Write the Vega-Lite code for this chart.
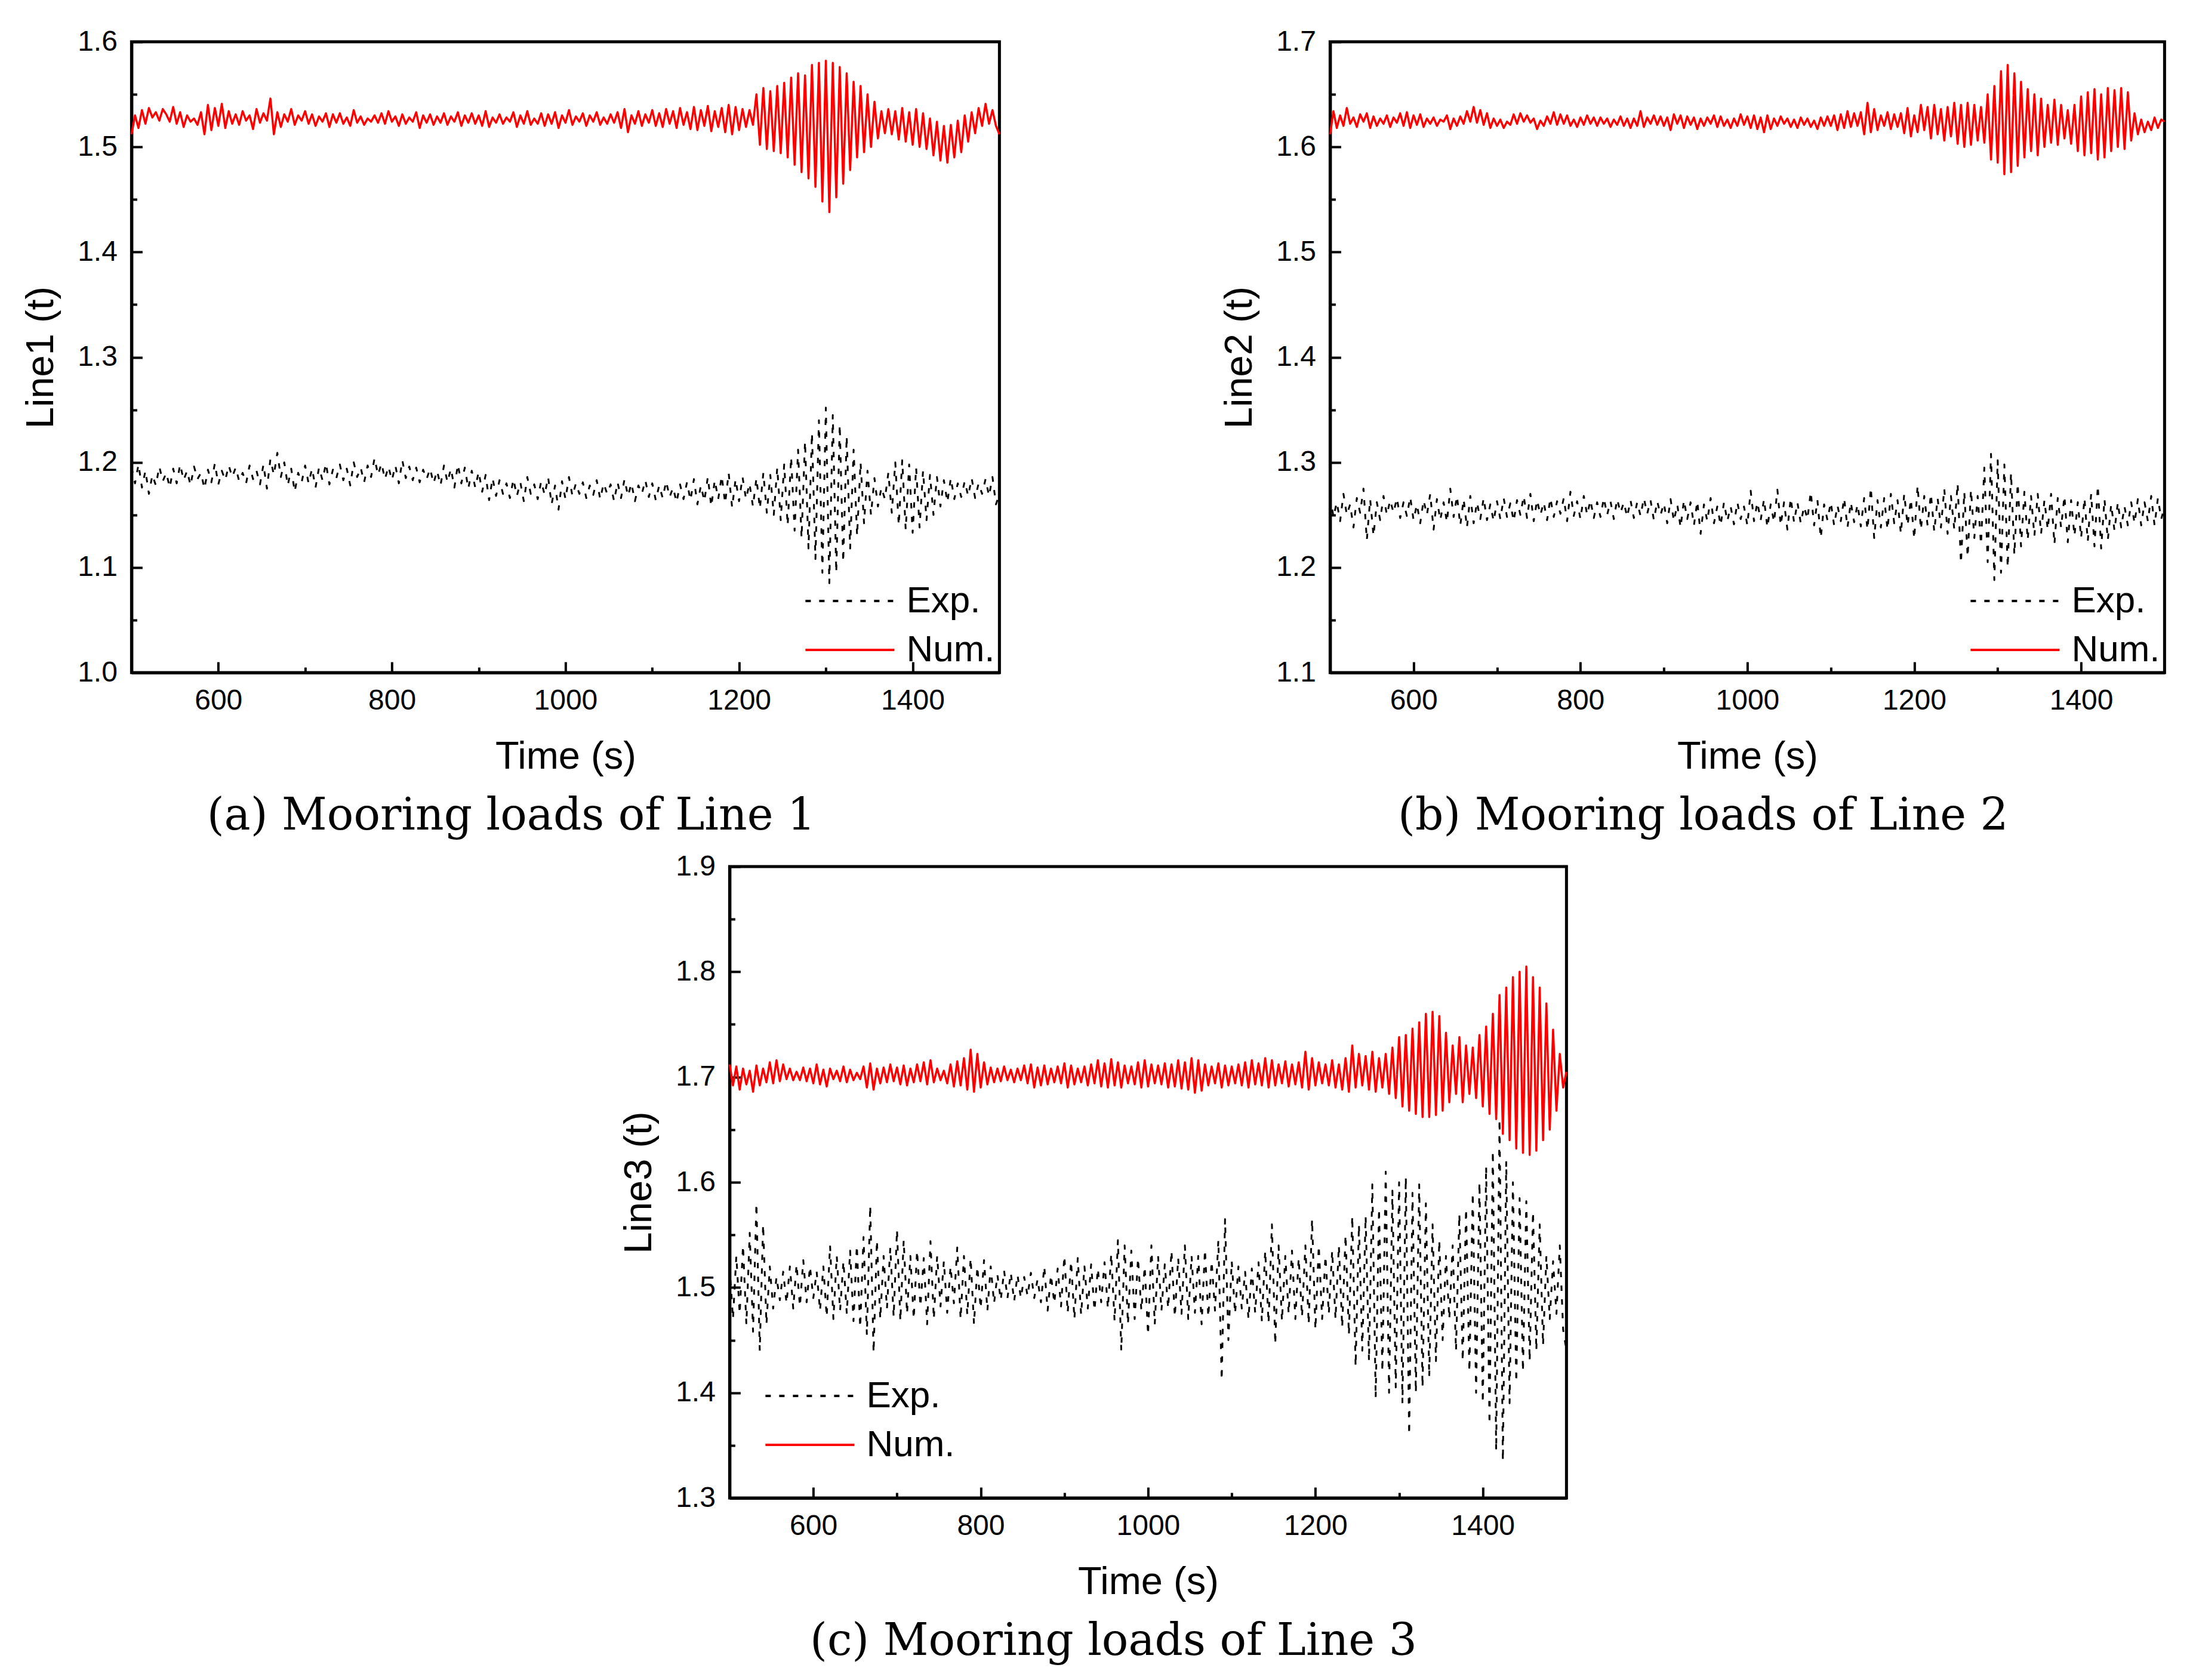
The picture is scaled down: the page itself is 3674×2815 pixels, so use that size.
{
  "$schema": "https://vega.github.io/schema/vega-lite/v6.json",
  "background": "white",
  "padding": {"left": 34, "top": 43, "right": 20, "bottom": 10},
  "datasets": {
    "a": [
      {"t":500,"e":1.195,"n":1.512},{"t":504,"e":1.18,"n":1.53},{"t":508,"e":1.198,"n":1.518},{"t":512,"e":1.176,"n":1.535},{"t":516,"e":1.192,"n":1.522},{"t":520,"e":1.17,"n":1.537},{"t":524,"e":1.188,"n":1.528},{"t":528,"e":1.178,"n":1.533},{"t":532,"e":1.196,"n":1.525},{"t":536,"e":1.182,"n":1.536},
      {"t":540,"e":1.19,"n":1.531},{"t":544,"e":1.176,"n":1.524},{"t":548,"e":1.194,"n":1.538},{"t":552,"e":1.18,"n":1.522},{"t":556,"e":1.198,"n":1.533},{"t":560,"e":1.183,"n":1.519},{"t":564,"e":1.192,"n":1.53},{"t":568,"e":1.178,"n":1.524},{"t":572,"e":1.196,"n":1.527},{"t":576,"e":1.184,"n":1.521},
      {"t":580,"e":1.19,"n":1.533},{"t":584,"e":1.175,"n":1.512},{"t":588,"e":1.193,"n":1.54},{"t":592,"e":1.181,"n":1.516},{"t":596,"e":1.199,"n":1.537},{"t":600,"e":1.179,"n":1.52},{"t":604,"e":1.192,"n":1.541},{"t":608,"e":1.183,"n":1.518},{"t":612,"e":1.197,"n":1.534},{"t":616,"e":1.186,"n":1.522},
      {"t":620,"e":1.195,"n":1.531},{"t":624,"e":1.182,"n":1.521},{"t":628,"e":1.19,"n":1.534},{"t":632,"e":1.18,"n":1.525},{"t":636,"e":1.197,"n":1.53},{"t":640,"e":1.184,"n":1.517},{"t":644,"e":1.192,"n":1.536},{"t":648,"e":1.179,"n":1.523},{"t":652,"e":1.198,"n":1.532},{"t":656,"e":1.175,"n":1.525},
      {"t":660,"e":1.203,"n":1.546},{"t":664,"e":1.188,"n":1.512},{"t":668,"e":1.209,"n":1.533},{"t":672,"e":1.186,"n":1.519},{"t":676,"e":1.2,"n":1.531},{"t":680,"e":1.178,"n":1.524},{"t":684,"e":1.194,"n":1.536},{"t":688,"e":1.172,"n":1.521},{"t":692,"e":1.19,"n":1.53},{"t":696,"e":1.181,"n":1.525},
      {"t":700,"e":1.197,"n":1.534},{"t":704,"e":1.18,"n":1.522},{"t":708,"e":1.194,"n":1.531},{"t":712,"e":1.176,"n":1.52},{"t":716,"e":1.195,"n":1.529},{"t":720,"e":1.183,"n":1.524},{"t":724,"e":1.199,"n":1.532},{"t":728,"e":1.179,"n":1.519},{"t":732,"e":1.193,"n":1.531},{"t":736,"e":1.185,"n":1.523},
      {"t":740,"e":1.198,"n":1.532},{"t":744,"e":1.183,"n":1.522},{"t":748,"e":1.194,"n":1.528},{"t":752,"e":1.178,"n":1.52},{"t":756,"e":1.2,"n":1.535},{"t":760,"e":1.186,"n":1.523},{"t":764,"e":1.195,"n":1.529},{"t":768,"e":1.181,"n":1.521},{"t":772,"e":1.197,"n":1.527},{"t":776,"e":1.186,"n":1.524},
      {"t":780,"e":1.204,"n":1.53},{"t":784,"e":1.188,"n":1.523},{"t":788,"e":1.199,"n":1.532},{"t":792,"e":1.184,"n":1.522},{"t":796,"e":1.196,"n":1.534},{"t":800,"e":1.183,"n":1.524},{"t":804,"e":1.197,"n":1.529},{"t":808,"e":1.18,"n":1.52},{"t":812,"e":1.202,"n":1.531},{"t":816,"e":1.185,"n":1.522},
      {"t":820,"e":1.196,"n":1.528},{"t":824,"e":1.183,"n":1.524},{"t":828,"e":1.195,"n":1.533},{"t":832,"e":1.181,"n":1.518},{"t":836,"e":1.193,"n":1.53},{"t":840,"e":1.184,"n":1.523},{"t":844,"e":1.194,"n":1.531},{"t":848,"e":1.18,"n":1.521},{"t":852,"e":1.192,"n":1.529},{"t":856,"e":1.178,"n":1.523},
      {"t":860,"e":1.197,"n":1.532},{"t":864,"e":1.181,"n":1.521},{"t":868,"e":1.194,"n":1.529},{"t":872,"e":1.176,"n":1.524},{"t":876,"e":1.198,"n":1.533},{"t":880,"e":1.18,"n":1.52},{"t":884,"e":1.195,"n":1.53},{"t":888,"e":1.175,"n":1.523},{"t":892,"e":1.192,"n":1.532},{"t":896,"e":1.176,"n":1.522},
      {"t":900,"e":1.191,"n":1.53},{"t":904,"e":1.172,"n":1.52},{"t":908,"e":1.188,"n":1.534},{"t":912,"e":1.164,"n":1.519},{"t":916,"e":1.185,"n":1.528},{"t":920,"e":1.168,"n":1.523},{"t":924,"e":1.183,"n":1.531},{"t":928,"e":1.17,"n":1.522},{"t":932,"e":1.18,"n":1.528},{"t":936,"e":1.166,"n":1.524},
      {"t":940,"e":1.184,"n":1.533},{"t":944,"e":1.168,"n":1.519},{"t":948,"e":1.181,"n":1.53},{"t":952,"e":1.163,"n":1.522},{"t":956,"e":1.186,"n":1.534},{"t":960,"e":1.17,"n":1.521},{"t":964,"e":1.179,"n":1.527},{"t":968,"e":1.165,"n":1.522},{"t":972,"e":1.182,"n":1.532},{"t":976,"e":1.169,"n":1.52},
      {"t":980,"e":1.186,"n":1.531},{"t":984,"e":1.16,"n":1.522},{"t":988,"e":1.178,"n":1.533},{"t":992,"e":1.155,"n":1.518},{"t":996,"e":1.182,"n":1.53},{"t":1000,"e":1.165,"n":1.523},{"t":1004,"e":1.186,"n":1.535},{"t":1008,"e":1.168,"n":1.521},{"t":1012,"e":1.18,"n":1.529},{"t":1016,"e":1.17,"n":1.524},
      {"t":1020,"e":1.181,"n":1.532},{"t":1024,"e":1.166,"n":1.52},{"t":1028,"e":1.178,"n":1.53},{"t":1032,"e":1.169,"n":1.524},{"t":1036,"e":1.183,"n":1.533},{"t":1040,"e":1.165,"n":1.521},{"t":1044,"e":1.18,"n":1.528},{"t":1048,"e":1.17,"n":1.522},{"t":1052,"e":1.179,"n":1.531},{"t":1056,"e":1.163,"n":1.523},
      {"t":1060,"e":1.181,"n":1.533},{"t":1064,"e":1.166,"n":1.518},{"t":1068,"e":1.184,"n":1.536},{"t":1072,"e":1.168,"n":1.514},{"t":1076,"e":1.18,"n":1.53},{"t":1080,"e":1.163,"n":1.522},{"t":1084,"e":1.178,"n":1.534},{"t":1088,"e":1.17,"n":1.52},{"t":1092,"e":1.183,"n":1.531},{"t":1096,"e":1.167,"n":1.523},
      {"t":1100,"e":1.18,"n":1.535},{"t":1104,"e":1.164,"n":1.52},{"t":1108,"e":1.178,"n":1.532},{"t":1112,"e":1.166,"n":1.519},{"t":1116,"e":1.182,"n":1.536},{"t":1120,"e":1.167,"n":1.522},{"t":1124,"e":1.176,"n":1.534},{"t":1128,"e":1.162,"n":1.518},{"t":1132,"e":1.179,"n":1.537},{"t":1136,"e":1.165,"n":1.521},
      {"t":1140,"e":1.181,"n":1.533},{"t":1144,"e":1.164,"n":1.517},{"t":1148,"e":1.184,"n":1.538},{"t":1152,"e":1.16,"n":1.516},{"t":1156,"e":1.178,"n":1.535},{"t":1160,"e":1.163,"n":1.52},{"t":1164,"e":1.186,"n":1.539},{"t":1168,"e":1.158,"n":1.515},{"t":1172,"e":1.183,"n":1.534},{"t":1176,"e":1.165,"n":1.519},
      {"t":1180,"e":1.187,"n":1.537},{"t":1184,"e":1.161,"n":1.514},{"t":1188,"e":1.19,"n":1.54},{"t":1192,"e":1.157,"n":1.512},{"t":1196,"e":1.184,"n":1.538},{"t":1200,"e":1.163,"n":1.516},{"t":1204,"e":1.186,"n":1.536},{"t":1208,"e":1.165,"n":1.519},{"t":1212,"e":1.18,"n":1.535},{"t":1216,"e":1.158,"n":1.521},
      {"t":1220,"e":1.185,"n":1.55},{"t":1224,"e":1.156,"n":1.502},{"t":1228,"e":1.19,"n":1.556},{"t":1232,"e":1.152,"n":1.498},{"t":1236,"e":1.188,"n":1.553},{"t":1240,"e":1.15,"n":1.496},{"t":1244,"e":1.195,"n":1.558},{"t":1248,"e":1.145,"n":1.494},{"t":1252,"e":1.198,"n":1.561},{"t":1256,"e":1.14,"n":1.49},
      {"t":1260,"e":1.205,"n":1.566},{"t":1264,"e":1.135,"n":1.483},{"t":1268,"e":1.212,"n":1.57},{"t":1272,"e":1.128,"n":1.476},{"t":1276,"e":1.22,"n":1.568},{"t":1280,"e":1.118,"n":1.47},{"t":1284,"e":1.228,"n":1.578},{"t":1288,"e":1.108,"n":1.462},{"t":1292,"e":1.24,"n":1.58},{"t":1296,"e":1.095,"n":1.448},
      {"t":1300,"e":1.252,"n":1.582},{"t":1304,"e":1.085,"n":1.438},{"t":1308,"e":1.245,"n":1.58},{"t":1312,"e":1.095,"n":1.452},{"t":1316,"e":1.236,"n":1.576},{"t":1320,"e":1.105,"n":1.465},{"t":1324,"e":1.225,"n":1.57},{"t":1328,"e":1.118,"n":1.478},{"t":1332,"e":1.212,"n":1.562},{"t":1336,"e":1.13,"n":1.49},
      {"t":1340,"e":1.2,"n":1.558},{"t":1344,"e":1.142,"n":1.495},{"t":1348,"e":1.192,"n":1.55},{"t":1352,"e":1.15,"n":1.5},{"t":1356,"e":1.185,"n":1.543},{"t":1360,"e":1.158,"n":1.508},{"t":1364,"e":1.176,"n":1.534},{"t":1368,"e":1.165,"n":1.513},{"t":1372,"e":1.19,"n":1.536},{"t":1376,"e":1.152,"n":1.512},
      {"t":1380,"e":1.2,"n":1.534},{"t":1384,"e":1.14,"n":1.507},{"t":1388,"e":1.202,"n":1.537},{"t":1392,"e":1.136,"n":1.505},{"t":1396,"e":1.198,"n":1.533},{"t":1400,"e":1.133,"n":1.502},{"t":1404,"e":1.195,"n":1.536},{"t":1408,"e":1.138,"n":1.5},{"t":1412,"e":1.192,"n":1.532},{"t":1416,"e":1.145,"n":1.498},
      {"t":1420,"e":1.188,"n":1.527},{"t":1424,"e":1.15,"n":1.492},{"t":1428,"e":1.186,"n":1.524},{"t":1432,"e":1.158,"n":1.487},{"t":1436,"e":1.183,"n":1.52},{"t":1440,"e":1.162,"n":1.485},{"t":1444,"e":1.185,"n":1.521},{"t":1448,"e":1.165,"n":1.49},{"t":1452,"e":1.18,"n":1.525},{"t":1456,"e":1.167,"n":1.495},
      {"t":1460,"e":1.182,"n":1.53},{"t":1464,"e":1.168,"n":1.505},{"t":1468,"e":1.185,"n":1.533},{"t":1472,"e":1.166,"n":1.513},{"t":1476,"e":1.18,"n":1.537},{"t":1480,"e":1.17,"n":1.52},{"t":1484,"e":1.184,"n":1.541},{"t":1488,"e":1.168,"n":1.522},{"t":1492,"e":1.186,"n":1.535},{"t":1496,"e":1.16,"n":1.52},
      {"t":1500,"e":1.17,"n":1.512}
    ],
    "b": [
      {"t":500,"e":1.268,"n":1.612},{"t":504,"e":1.248,"n":1.634},{"t":508,"e":1.262,"n":1.618},{"t":512,"e":1.244,"n":1.63},{"t":516,"e":1.27,"n":1.62},{"t":520,"e":1.25,"n":1.637},{"t":524,"e":1.26,"n":1.622},{"t":528,"e":1.238,"n":1.628},{"t":532,"e":1.266,"n":1.619},{"t":536,"e":1.252,"n":1.631},
      {"t":540,"e":1.275,"n":1.624},{"t":544,"e":1.226,"n":1.632},{"t":548,"e":1.265,"n":1.618},{"t":552,"e":1.23,"n":1.629},{"t":556,"e":1.262,"n":1.62},{"t":560,"e":1.245,"n":1.627},{"t":564,"e":1.268,"n":1.622},{"t":568,"e":1.25,"n":1.63},{"t":572,"e":1.264,"n":1.619},{"t":576,"e":1.252,"n":1.628},
      {"t":580,"e":1.266,"n":1.623},{"t":584,"e":1.247,"n":1.632},{"t":588,"e":1.262,"n":1.62},{"t":592,"e":1.249,"n":1.633},{"t":596,"e":1.267,"n":1.618},{"t":600,"e":1.245,"n":1.63},{"t":604,"e":1.26,"n":1.621},{"t":608,"e":1.242,"n":1.631},{"t":612,"e":1.264,"n":1.619},{"t":616,"e":1.25,"n":1.627},
      {"t":620,"e":1.27,"n":1.622},{"t":624,"e":1.236,"n":1.628},{"t":628,"e":1.265,"n":1.62},{"t":632,"e":1.245,"n":1.626},{"t":636,"e":1.262,"n":1.624},{"t":640,"e":1.243,"n":1.63},{"t":644,"e":1.275,"n":1.617},{"t":648,"e":1.248,"n":1.627},{"t":652,"e":1.268,"n":1.62},{"t":656,"e":1.24,"n":1.629},
      {"t":660,"e":1.265,"n":1.622},{"t":664,"e":1.238,"n":1.634},{"t":668,"e":1.268,"n":1.624},{"t":672,"e":1.242,"n":1.638},{"t":676,"e":1.262,"n":1.623},{"t":680,"e":1.246,"n":1.635},{"t":684,"e":1.266,"n":1.621},{"t":688,"e":1.245,"n":1.632},{"t":692,"e":1.26,"n":1.618},{"t":696,"e":1.244,"n":1.627},
      {"t":700,"e":1.263,"n":1.62},{"t":704,"e":1.246,"n":1.626},{"t":708,"e":1.266,"n":1.618},{"t":712,"e":1.248,"n":1.624},{"t":716,"e":1.261,"n":1.621},{"t":720,"e":1.244,"n":1.631},{"t":724,"e":1.264,"n":1.622},{"t":728,"e":1.25,"n":1.632},{"t":732,"e":1.268,"n":1.624},{"t":736,"e":1.247,"n":1.63},
      {"t":740,"e":1.27,"n":1.623},{"t":744,"e":1.244,"n":1.627},{"t":748,"e":1.264,"n":1.617},{"t":752,"e":1.25,"n":1.625},{"t":756,"e":1.262,"n":1.62},{"t":760,"e":1.245,"n":1.629},{"t":764,"e":1.266,"n":1.622},{"t":768,"e":1.248,"n":1.633},{"t":772,"e":1.263,"n":1.621},{"t":776,"e":1.251,"n":1.631},
      {"t":780,"e":1.266,"n":1.622},{"t":784,"e":1.244,"n":1.63},{"t":788,"e":1.272,"n":1.62},{"t":792,"e":1.249,"n":1.626},{"t":796,"e":1.263,"n":1.619},{"t":800,"e":1.246,"n":1.628},{"t":804,"e":1.268,"n":1.621},{"t":808,"e":1.25,"n":1.63},{"t":812,"e":1.264,"n":1.622},{"t":816,"e":1.247,"n":1.628},
      {"t":820,"e":1.262,"n":1.62},{"t":824,"e":1.248,"n":1.628},{"t":828,"e":1.266,"n":1.622},{"t":832,"e":1.25,"n":1.627},{"t":836,"e":1.263,"n":1.619},{"t":840,"e":1.246,"n":1.626},{"t":844,"e":1.265,"n":1.621},{"t":848,"e":1.252,"n":1.629},{"t":852,"e":1.262,"n":1.62},{"t":856,"e":1.248,"n":1.627},
      {"t":860,"e":1.264,"n":1.618},{"t":864,"e":1.247,"n":1.627},{"t":868,"e":1.262,"n":1.62},{"t":872,"e":1.249,"n":1.634},{"t":876,"e":1.266,"n":1.619},{"t":880,"e":1.251,"n":1.628},{"t":884,"e":1.264,"n":1.622},{"t":888,"e":1.245,"n":1.63},{"t":892,"e":1.263,"n":1.621},{"t":896,"e":1.25,"n":1.629},
      {"t":900,"e":1.261,"n":1.62},{"t":904,"e":1.242,"n":1.628},{"t":908,"e":1.265,"n":1.616},{"t":912,"e":1.244,"n":1.631},{"t":916,"e":1.26,"n":1.622},{"t":920,"e":1.238,"n":1.63},{"t":924,"e":1.264,"n":1.618},{"t":928,"e":1.246,"n":1.629},{"t":932,"e":1.262,"n":1.621},{"t":936,"e":1.24,"n":1.628},
      {"t":940,"e":1.263,"n":1.617},{"t":944,"e":1.232,"n":1.627},{"t":948,"e":1.26,"n":1.62},{"t":952,"e":1.244,"n":1.628},{"t":956,"e":1.266,"n":1.622},{"t":960,"e":1.242,"n":1.63},{"t":964,"e":1.258,"n":1.619},{"t":968,"e":1.24,"n":1.629},{"t":972,"e":1.262,"n":1.62},{"t":976,"e":1.244,"n":1.626},
      {"t":980,"e":1.258,"n":1.618},{"t":984,"e":1.241,"n":1.627},{"t":988,"e":1.262,"n":1.62},{"t":992,"e":1.246,"n":1.631},{"t":996,"e":1.258,"n":1.621},{"t":1000,"e":1.24,"n":1.629},{"t":1004,"e":1.273,"n":1.618},{"t":1008,"e":1.244,"n":1.63},{"t":1012,"e":1.262,"n":1.617},{"t":1016,"e":1.245,"n":1.628},
      {"t":1020,"e":1.265,"n":1.614},{"t":1024,"e":1.238,"n":1.63},{"t":1028,"e":1.26,"n":1.617},{"t":1032,"e":1.243,"n":1.627},{"t":1036,"e":1.274,"n":1.62},{"t":1040,"e":1.24,"n":1.629},{"t":1044,"e":1.262,"n":1.622},{"t":1048,"e":1.236,"n":1.627},{"t":1052,"e":1.266,"n":1.619},{"t":1056,"e":1.243,"n":1.626},
      {"t":1060,"e":1.262,"n":1.618},{"t":1064,"e":1.242,"n":1.628},{"t":1068,"e":1.258,"n":1.621},{"t":1072,"e":1.246,"n":1.627},{"t":1076,"e":1.272,"n":1.619},{"t":1080,"e":1.24,"n":1.625},{"t":1084,"e":1.264,"n":1.617},{"t":1088,"e":1.228,"n":1.628},{"t":1092,"e":1.26,"n":1.62},{"t":1096,"e":1.245,"n":1.629},
      {"t":1100,"e":1.262,"n":1.62},{"t":1104,"e":1.24,"n":1.63},{"t":1108,"e":1.259,"n":1.616},{"t":1112,"e":1.244,"n":1.631},{"t":1116,"e":1.266,"n":1.618},{"t":1120,"e":1.238,"n":1.634},{"t":1124,"e":1.262,"n":1.619},{"t":1128,"e":1.243,"n":1.632},{"t":1132,"e":1.26,"n":1.62},{"t":1136,"e":1.239,"n":1.633},
      {"t":1140,"e":1.266,"n":1.612},{"t":1144,"e":1.236,"n":1.642},{"t":1148,"e":1.276,"n":1.614},{"t":1152,"e":1.228,"n":1.636},{"t":1156,"e":1.264,"n":1.616},{"t":1160,"e":1.238,"n":1.63},{"t":1164,"e":1.266,"n":1.62},{"t":1168,"e":1.236,"n":1.633},{"t":1172,"e":1.27,"n":1.617},{"t":1176,"e":1.242,"n":1.631},
      {"t":1180,"e":1.264,"n":1.619},{"t":1184,"e":1.232,"n":1.632},{"t":1188,"e":1.27,"n":1.613},{"t":1192,"e":1.24,"n":1.637},{"t":1196,"e":1.265,"n":1.61},{"t":1200,"e":1.227,"n":1.63},{"t":1204,"e":1.278,"n":1.614},{"t":1208,"e":1.236,"n":1.64},{"t":1212,"e":1.268,"n":1.616},{"t":1216,"e":1.24,"n":1.638},
      {"t":1220,"e":1.27,"n":1.608},{"t":1224,"e":1.234,"n":1.64},{"t":1228,"e":1.266,"n":1.612},{"t":1232,"e":1.238,"n":1.636},{"t":1236,"e":1.275,"n":1.606},{"t":1240,"e":1.232,"n":1.638},{"t":1244,"e":1.268,"n":1.61},{"t":1248,"e":1.236,"n":1.642},{"t":1252,"e":1.28,"n":1.603},{"t":1256,"e":1.204,"n":1.64},
      {"t":1260,"e":1.272,"n":1.6},{"t":1264,"e":1.21,"n":1.642},{"t":1268,"e":1.274,"n":1.602},{"t":1272,"e":1.228,"n":1.64},{"t":1276,"e":1.268,"n":1.606},{"t":1280,"e":1.222,"n":1.638},{"t":1284,"e":1.295,"n":1.604},{"t":1288,"e":1.205,"n":1.65},{"t":1292,"e":1.308,"n":1.588},{"t":1296,"e":1.188,"n":1.658},
      {"t":1300,"e":1.302,"n":1.585},{"t":1304,"e":1.195,"n":1.672},{"t":1308,"e":1.298,"n":1.574},{"t":1312,"e":1.2,"n":1.678},{"t":1316,"e":1.29,"n":1.576},{"t":1320,"e":1.212,"n":1.67},{"t":1324,"e":1.28,"n":1.582},{"t":1328,"e":1.22,"n":1.662},{"t":1332,"e":1.272,"n":1.59},{"t":1336,"e":1.226,"n":1.655},
      {"t":1340,"e":1.268,"n":1.596},{"t":1344,"e":1.23,"n":1.65},{"t":1348,"e":1.27,"n":1.592},{"t":1352,"e":1.232,"n":1.646},{"t":1356,"e":1.264,"n":1.6},{"t":1360,"e":1.236,"n":1.64},{"t":1364,"e":1.27,"n":1.604},{"t":1368,"e":1.222,"n":1.645},{"t":1372,"e":1.266,"n":1.602},{"t":1376,"e":1.238,"n":1.64},
      {"t":1380,"e":1.268,"n":1.608},{"t":1384,"e":1.224,"n":1.635},{"t":1388,"e":1.264,"n":1.603},{"t":1392,"e":1.23,"n":1.64},{"t":1396,"e":1.262,"n":1.596},{"t":1400,"e":1.228,"n":1.648},{"t":1404,"e":1.266,"n":1.592},{"t":1408,"e":1.225,"n":1.652},{"t":1412,"e":1.27,"n":1.594},{"t":1416,"e":1.22,"n":1.655},
      {"t":1420,"e":1.278,"n":1.588},{"t":1424,"e":1.218,"n":1.65},{"t":1428,"e":1.265,"n":1.59},{"t":1432,"e":1.226,"n":1.656},{"t":1436,"e":1.26,"n":1.596},{"t":1440,"e":1.235,"n":1.654},{"t":1444,"e":1.262,"n":1.6},{"t":1448,"e":1.238,"n":1.656},{"t":1452,"e":1.258,"n":1.598},{"t":1456,"e":1.24,"n":1.652},
      {"t":1460,"e":1.262,"n":1.606},{"t":1464,"e":1.242,"n":1.632},{"t":1468,"e":1.265,"n":1.612},{"t":1472,"e":1.24,"n":1.626},{"t":1476,"e":1.262,"n":1.614},{"t":1480,"e":1.244,"n":1.624},{"t":1484,"e":1.268,"n":1.616},{"t":1488,"e":1.24,"n":1.628},{"t":1492,"e":1.266,"n":1.618},{"t":1496,"e":1.246,"n":1.626},
      {"t":1500,"e":1.258,"n":1.624}
    ],
    "c": [
      {"t":500,"e":1.52,"n":1.712},{"t":504,"e":1.47,"n":1.692},{"t":508,"e":1.53,"n":1.71},{"t":512,"e":1.475,"n":1.688},{"t":516,"e":1.54,"n":1.708},{"t":520,"e":1.465,"n":1.693},{"t":524,"e":1.552,"n":1.706},{"t":528,"e":1.458,"n":1.686},{"t":532,"e":1.58,"n":1.711},{"t":536,"e":1.44,"n":1.692},
      {"t":540,"e":1.56,"n":1.708},{"t":544,"e":1.465,"n":1.695},{"t":548,"e":1.52,"n":1.714},{"t":552,"e":1.48,"n":1.694},{"t":556,"e":1.51,"n":1.716},{"t":560,"e":1.488,"n":1.696},{"t":564,"e":1.515,"n":1.712},{"t":568,"e":1.485,"n":1.698},{"t":572,"e":1.52,"n":1.708},{"t":576,"e":1.48,"n":1.697},
      {"t":580,"e":1.522,"n":1.705},{"t":584,"e":1.482,"n":1.697},{"t":588,"e":1.526,"n":1.709},{"t":592,"e":1.486,"n":1.696},{"t":596,"e":1.52,"n":1.708},{"t":600,"e":1.49,"n":1.694},{"t":604,"e":1.515,"n":1.712},{"t":608,"e":1.478,"n":1.693},{"t":612,"e":1.52,"n":1.707},{"t":616,"e":1.472,"n":1.691},
      {"t":620,"e":1.54,"n":1.708},{"t":624,"e":1.47,"n":1.698},{"t":628,"e":1.53,"n":1.706},{"t":632,"e":1.478,"n":1.696},{"t":636,"e":1.525,"n":1.71},{"t":640,"e":1.475,"n":1.695},{"t":644,"e":1.535,"n":1.707},{"t":648,"e":1.468,"n":1.697},{"t":652,"e":1.54,"n":1.704},{"t":656,"e":1.462,"n":1.698},
      {"t":660,"e":1.548,"n":1.71},{"t":664,"e":1.455,"n":1.69},{"t":668,"e":1.578,"n":1.713},{"t":672,"e":1.438,"n":1.688},{"t":676,"e":1.545,"n":1.708},{"t":680,"e":1.47,"n":1.694},{"t":684,"e":1.53,"n":1.709},{"t":688,"e":1.48,"n":1.695},{"t":692,"e":1.538,"n":1.712},{"t":696,"e":1.472,"n":1.696},
      {"t":700,"e":1.555,"n":1.709},{"t":704,"e":1.468,"n":1.693},{"t":708,"e":1.545,"n":1.711},{"t":712,"e":1.475,"n":1.692},{"t":716,"e":1.53,"n":1.708},{"t":720,"e":1.47,"n":1.695},{"t":724,"e":1.535,"n":1.712},{"t":728,"e":1.482,"n":1.696},{"t":732,"e":1.528,"n":1.714},{"t":736,"e":1.465,"n":1.693},
      {"t":740,"e":1.544,"n":1.716},{"t":744,"e":1.47,"n":1.695},{"t":748,"e":1.53,"n":1.708},{"t":752,"e":1.482,"n":1.697},{"t":756,"e":1.525,"n":1.706},{"t":760,"e":1.476,"n":1.694},{"t":764,"e":1.52,"n":1.712},{"t":768,"e":1.485,"n":1.691},{"t":772,"e":1.538,"n":1.715},{"t":776,"e":1.47,"n":1.692},
      {"t":780,"e":1.53,"n":1.718},{"t":784,"e":1.474,"n":1.688},{"t":788,"e":1.528,"n":1.726},{"t":792,"e":1.465,"n":1.686},{"t":796,"e":1.52,"n":1.722},{"t":800,"e":1.48,"n":1.69},{"t":804,"e":1.526,"n":1.714},{"t":808,"e":1.478,"n":1.693},{"t":812,"e":1.52,"n":1.709},{"t":816,"e":1.485,"n":1.695},
      {"t":820,"e":1.512,"n":1.708},{"t":824,"e":1.488,"n":1.696},{"t":828,"e":1.516,"n":1.71},{"t":832,"e":1.49,"n":1.697},{"t":836,"e":1.514,"n":1.707},{"t":840,"e":1.487,"n":1.695},{"t":844,"e":1.512,"n":1.708},{"t":848,"e":1.49,"n":1.697},{"t":852,"e":1.51,"n":1.711},{"t":856,"e":1.492,"n":1.694},
      {"t":860,"e":1.514,"n":1.712},{"t":864,"e":1.49,"n":1.69},{"t":868,"e":1.508,"n":1.709},{"t":872,"e":1.486,"n":1.692},{"t":876,"e":1.52,"n":1.711},{"t":880,"e":1.478,"n":1.693},{"t":884,"e":1.512,"n":1.708},{"t":888,"e":1.485,"n":1.695},{"t":892,"e":1.518,"n":1.71},{"t":896,"e":1.482,"n":1.694},
      {"t":900,"e":1.53,"n":1.713},{"t":904,"e":1.476,"n":1.69},{"t":908,"e":1.525,"n":1.711},{"t":912,"e":1.47,"n":1.693},{"t":916,"e":1.528,"n":1.708},{"t":920,"e":1.474,"n":1.695},{"t":924,"e":1.52,"n":1.71},{"t":928,"e":1.48,"n":1.692},{"t":932,"e":1.522,"n":1.712},{"t":936,"e":1.478,"n":1.694},
      {"t":940,"e":1.518,"n":1.716},{"t":944,"e":1.486,"n":1.691},{"t":948,"e":1.524,"n":1.713},{"t":952,"e":1.48,"n":1.69},{"t":956,"e":1.532,"n":1.717},{"t":960,"e":1.468,"n":1.692},{"t":964,"e":1.545,"n":1.714},{"t":968,"e":1.44,"n":1.69},{"t":972,"e":1.54,"n":1.711},{"t":976,"e":1.465,"n":1.694},
      {"t":980,"e":1.535,"n":1.71},{"t":984,"e":1.47,"n":1.693},{"t":988,"e":1.528,"n":1.714},{"t":992,"e":1.478,"n":1.69},{"t":996,"e":1.52,"n":1.716},{"t":1000,"e":1.455,"n":1.691},{"t":1004,"e":1.54,"n":1.712},{"t":1008,"e":1.465,"n":1.694},{"t":1012,"e":1.53,"n":1.711},{"t":1016,"e":1.478,"n":1.693},
      {"t":1020,"e":1.522,"n":1.713},{"t":1024,"e":1.48,"n":1.69},{"t":1028,"e":1.535,"n":1.712},{"t":1032,"e":1.472,"n":1.691},{"t":1036,"e":1.528,"n":1.716},{"t":1040,"e":1.475,"n":1.689},{"t":1044,"e":1.54,"n":1.714},{"t":1048,"e":1.47,"n":1.688},{"t":1052,"e":1.53,"n":1.718},{"t":1056,"e":1.476,"n":1.685},
      {"t":1060,"e":1.53,"n":1.716},{"t":1064,"e":1.465,"n":1.687},{"t":1068,"e":1.536,"n":1.712},{"t":1072,"e":1.472,"n":1.692},{"t":1076,"e":1.525,"n":1.71},{"t":1080,"e":1.478,"n":1.694},{"t":1084,"e":1.545,"n":1.713},{"t":1088,"e":1.412,"n":1.69},{"t":1092,"e":1.565,"n":1.711},{"t":1096,"e":1.45,"n":1.692},
      {"t":1100,"e":1.525,"n":1.71},{"t":1104,"e":1.475,"n":1.694},{"t":1108,"e":1.52,"n":1.712},{"t":1112,"e":1.48,"n":1.692},{"t":1116,"e":1.515,"n":1.714},{"t":1120,"e":1.47,"n":1.69},{"t":1124,"e":1.518,"n":1.716},{"t":1128,"e":1.476,"n":1.693},{"t":1132,"e":1.524,"n":1.713},{"t":1136,"e":1.468,"n":1.692},
      {"t":1140,"e":1.535,"n":1.718},{"t":1144,"e":1.466,"n":1.69},{"t":1148,"e":1.56,"n":1.716},{"t":1152,"e":1.446,"n":1.692},{"t":1156,"e":1.54,"n":1.712},{"t":1160,"e":1.468,"n":1.694},{"t":1164,"e":1.53,"n":1.715},{"t":1168,"e":1.475,"n":1.691},{"t":1172,"e":1.535,"n":1.712},{"t":1176,"e":1.47,"n":1.693},
      {"t":1180,"e":1.528,"n":1.714},{"t":1184,"e":1.472,"n":1.69},{"t":1188,"e":1.54,"n":1.724},{"t":1192,"e":1.465,"n":1.688},{"t":1196,"e":1.565,"n":1.718},{"t":1200,"e":1.46,"n":1.692},{"t":1204,"e":1.54,"n":1.714},{"t":1208,"e":1.47,"n":1.694},{"t":1212,"e":1.53,"n":1.712},{"t":1216,"e":1.475,"n":1.692},
      {"t":1220,"e":1.535,"n":1.716},{"t":1224,"e":1.47,"n":1.69},{"t":1228,"e":1.54,"n":1.712},{"t":1232,"e":1.462,"n":1.688},{"t":1236,"e":1.55,"n":1.718},{"t":1240,"e":1.455,"n":1.686},{"t":1244,"e":1.568,"n":1.73},{"t":1248,"e":1.425,"n":1.69},{"t":1252,"e":1.56,"n":1.722},{"t":1256,"e":1.44,"n":1.692},
      {"t":1260,"e":1.568,"n":1.72},{"t":1264,"e":1.43,"n":1.688},{"t":1268,"e":1.598,"n":1.724},{"t":1272,"e":1.395,"n":1.686},{"t":1276,"e":1.575,"n":1.718},{"t":1280,"e":1.42,"n":1.69},{"t":1284,"e":1.61,"n":1.722},{"t":1288,"e":1.4,"n":1.684},{"t":1292,"e":1.592,"n":1.728},{"t":1296,"e":1.405,"n":1.68},
      {"t":1300,"e":1.6,"n":1.738},{"t":1304,"e":1.39,"n":1.672},{"t":1308,"e":1.605,"n":1.74},{"t":1312,"e":1.36,"n":1.668},{"t":1316,"e":1.59,"n":1.746},{"t":1320,"e":1.4,"n":1.665},{"t":1324,"e":1.598,"n":1.752},{"t":1328,"e":1.405,"n":1.662},{"t":1332,"e":1.58,"n":1.76},{"t":1336,"e":1.415,"n":1.662},
      {"t":1340,"e":1.56,"n":1.762},{"t":1344,"e":1.43,"n":1.664},{"t":1348,"e":1.545,"n":1.758},{"t":1352,"e":1.45,"n":1.668},{"t":1356,"e":1.53,"n":1.742},{"t":1360,"e":1.47,"n":1.676},{"t":1364,"e":1.54,"n":1.73},{"t":1368,"e":1.44,"n":1.684},{"t":1372,"e":1.57,"n":1.738},{"t":1376,"e":1.43,"n":1.676},
      {"t":1380,"e":1.575,"n":1.73},{"t":1384,"e":1.42,"n":1.684},{"t":1388,"e":1.59,"n":1.728},{"t":1392,"e":1.4,"n":1.68},{"t":1396,"e":1.6,"n":1.74},{"t":1400,"e":1.39,"n":1.672},{"t":1404,"e":1.615,"n":1.748},{"t":1408,"e":1.37,"n":1.665},{"t":1412,"e":1.63,"n":1.76},{"t":1416,"e":1.345,"n":1.66},
      {"t":1420,"e":1.66,"n":1.778},{"t":1424,"e":1.335,"n":1.646},{"t":1428,"e":1.62,"n":1.785},{"t":1432,"e":1.39,"n":1.64},{"t":1436,"e":1.6,"n":1.795},{"t":1440,"e":1.41,"n":1.632},{"t":1444,"e":1.585,"n":1.8},{"t":1448,"e":1.42,"n":1.628},{"t":1452,"e":1.582,"n":1.805},{"t":1456,"e":1.43,"n":1.626},
      {"t":1460,"e":1.572,"n":1.795},{"t":1464,"e":1.44,"n":1.63},{"t":1468,"e":1.56,"n":1.785},{"t":1472,"e":1.445,"n":1.64},{"t":1476,"e":1.53,"n":1.77},{"t":1480,"e":1.47,"n":1.65},{"t":1484,"e":1.525,"n":1.745},{"t":1488,"e":1.475,"n":1.668},{"t":1492,"e":1.54,"n":1.722},{"t":1496,"e":1.46,"n":1.69},
      {"t":1500,"e":1.44,"n":1.705}
    ]
  },
  "vconcat": [
    {
      "hconcat": [
        {
          "width": 1454,
          "height": 1057,
          "data": {"name": "a"},
          "transform": [{"fold": ["e", "n"], "as": ["s", "v"]}],
          "title": {"text": "(a) Mooring loads of Line 1", "dx": 0},
          "layer": [
            {
              "transform": [{"filter": "datum.s === 'e'"}],
              "mark": {"type": "line", "strokeWidth": 3, "strokeJoin": "round"},
              "encoding": {
                "x": {"field": "t", "type": "quantitative", "scale": {"domain": [500, 1500], "nice": false, "zero": false},
                      "axis": {"orient": "bottom", "values": [600, 800, 1000, 1200, 1400], "format": "d", "title": "Time (s)"}},
                "y": {"field": "v", "type": "quantitative", "scale": {"domain": [1.0, 1.6], "nice": false, "zero": false},
                      "axis": {"orient": "left", "values": [1.0, 1.1, 1.2, 1.3, 1.4, 1.5, 1.6], "format": ".1f", "title": "Line1 (t)"}},
                "color": {"field": "s", "type": "nominal", "scale": {"domain": ["e", "n"], "range": ["#000000", "#ff0000"]},
                          "legend": {"title": null, "orient": "bottom-right", "offset": 7, "labelExpr": "datum.label === 'e' ? 'Exp.' : 'Num.'"}},
                "strokeDash": {"field": "s", "type": "nominal", "scale": {"domain": ["e", "n"], "range": [[9, 14], [1, 0]]},
                               "legend": {"title": null, "orient": "bottom-right", "offset": 7, "labelExpr": "datum.label === 'e' ? 'Exp.' : 'Num.'"}}
              }
            },
            {
              "transform": [{"filter": "datum.s === 'n'"}],
              "mark": {"type": "line", "strokeWidth": 3.5, "strokeJoin": "round"},
              "encoding": {
                "x": {"field": "t", "type": "quantitative", "scale": {"domain": [500, 1500], "nice": false, "zero": false},
                      "axis": {"orient": "bottom", "values": [700, 900, 1100, 1300], "labels": false, "domain": false, "title": null, "tickSize": -9}},
                "y": {"field": "v", "type": "quantitative", "scale": {"domain": [1.0, 1.6], "nice": false, "zero": false},
                      "axis": {"orient": "left", "values": [1.05, 1.15, 1.25, 1.35, 1.45, 1.55], "labels": false, "domain": false, "title": null, "tickSize": -9}},
                "color": {"field": "s", "type": "nominal", "scale": {"domain": ["e", "n"], "range": ["#000000", "#ff0000"]},
                          "legend": {"title": null, "orient": "bottom-right", "offset": 7, "labelExpr": "datum.label === 'e' ? 'Exp.' : 'Num.'"}},
                "strokeDash": {"field": "s", "type": "nominal", "scale": {"domain": ["e", "n"], "range": [[9, 14], [1, 0]]},
                               "legend": {"title": null, "orient": "bottom-right", "offset": 7, "labelExpr": "datum.label === 'e' ? 'Exp.' : 'Num.'"}}
              }
            }
          ],
          "resolve": {"axis": {"x": "independent", "y": "independent"}}
        },
        {
          "width": 1398,
          "height": 1057,
          "data": {"name": "b"},
          "transform": [{"fold": ["e", "n"], "as": ["s", "v"]}],
          "title": {"text": "(b) Mooring loads of Line 2", "dx": 17},
          "layer": [
            {
              "transform": [{"filter": "datum.s === 'e'"}],
              "mark": {"type": "line", "strokeWidth": 3, "strokeJoin": "round"},
              "encoding": {
                "x": {"field": "t", "type": "quantitative", "scale": {"domain": [500, 1500], "nice": false, "zero": false},
                      "axis": {"orient": "bottom", "values": [600, 800, 1000, 1200, 1400], "format": "d", "title": "Time (s)"}},
                "y": {"field": "v", "type": "quantitative", "scale": {"domain": [1.1, 1.7], "nice": false, "zero": false},
                      "axis": {"orient": "left", "values": [1.1, 1.2, 1.3, 1.4, 1.5, 1.6, 1.7], "format": ".1f", "title": "Line2 (t)"}},
                "color": {"field": "s", "type": "nominal", "scale": {"domain": ["e", "n"], "range": ["#000000", "#ff0000"]},
                          "legend": {"title": null, "orient": "bottom-right", "offset": 7, "labelExpr": "datum.label === 'e' ? 'Exp.' : 'Num.'"}},
                "strokeDash": {"field": "s", "type": "nominal", "scale": {"domain": ["e", "n"], "range": [[9, 14], [1, 0]]},
                               "legend": {"title": null, "orient": "bottom-right", "offset": 7, "labelExpr": "datum.label === 'e' ? 'Exp.' : 'Num.'"}}
              }
            },
            {
              "transform": [{"filter": "datum.s === 'n'"}],
              "mark": {"type": "line", "strokeWidth": 3.5, "strokeJoin": "round"},
              "encoding": {
                "x": {"field": "t", "type": "quantitative", "scale": {"domain": [500, 1500], "nice": false, "zero": false},
                      "axis": {"orient": "bottom", "values": [700, 900, 1100, 1300], "labels": false, "domain": false, "title": null, "tickSize": -9}},
                "y": {"field": "v", "type": "quantitative", "scale": {"domain": [1.1, 1.7], "nice": false, "zero": false},
                      "axis": {"orient": "left", "values": [1.15, 1.25, 1.35, 1.45, 1.55, 1.65], "labels": false, "domain": false, "title": null, "tickSize": -9}},
                "color": {"field": "s", "type": "nominal", "scale": {"domain": ["e", "n"], "range": ["#000000", "#ff0000"]},
                          "legend": {"title": null, "orient": "bottom-right", "offset": 7, "labelExpr": "datum.label === 'e' ? 'Exp.' : 'Num.'"}},
                "strokeDash": {"field": "s", "type": "nominal", "scale": {"domain": ["e", "n"], "range": [[9, 14], [1, 0]]},
                               "legend": {"title": null, "orient": "bottom-right", "offset": 7, "labelExpr": "datum.label === 'e' ? 'Exp.' : 'Num.'"}}
              }
            }
          ],
          "resolve": {"axis": {"x": "independent", "y": "independent"}}
        }
      ],
      "spacing": 362,
      "resolve": {"scale": {"color": "independent", "strokeDash": "independent"}}
    },
    {
      "width": 1402,
      "height": 1058,
      "data": {"name": "c"},
      "transform": [{"fold": ["e", "n"], "as": ["s", "v"]}],
      "title": {"text": "(c) Mooring loads of Line 3", "dx": 33},
      "layer": [
        {
          "transform": [{"filter": "datum.s === 'e'"}],
          "mark": {"type": "line", "strokeWidth": 3, "strokeJoin": "round"},
          "encoding": {
            "x": {"field": "t", "type": "quantitative", "scale": {"domain": [500, 1500], "nice": false, "zero": false},
                  "axis": {"orient": "bottom", "values": [600, 800, 1000, 1200, 1400], "format": "d", "title": "Time (s)"}},
            "y": {"field": "v", "type": "quantitative", "scale": {"domain": [1.3, 1.9], "nice": false, "zero": false},
                  "axis": {"orient": "left", "values": [1.3, 1.4, 1.5, 1.6, 1.7, 1.8, 1.9], "format": ".1f", "title": "Line3 (t)"}},
            "color": {"field": "s", "type": "nominal", "scale": {"domain": ["e", "n"], "range": ["#000000", "#ff0000"]},
                      "legend": {"title": null, "orient": "bottom-left", "offset": 58, "labelExpr": "datum.label === 'e' ? 'Exp.' : 'Num.'"}},
            "strokeDash": {"field": "s", "type": "nominal", "scale": {"domain": ["e", "n"], "range": [[9, 14], [1, 0]]},
                           "legend": {"title": null, "orient": "bottom-left", "offset": 58, "labelExpr": "datum.label === 'e' ? 'Exp.' : 'Num.'"}}
          }
        },
        {
          "transform": [{"filter": "datum.s === 'n'"}],
          "mark": {"type": "line", "strokeWidth": 3.5, "strokeJoin": "round"},
          "encoding": {
            "x": {"field": "t", "type": "quantitative", "scale": {"domain": [500, 1500], "nice": false, "zero": false},
                  "axis": {"orient": "bottom", "values": [700, 900, 1100, 1300], "labels": false, "domain": false, "title": null, "tickSize": -9}},
            "y": {"field": "v", "type": "quantitative", "scale": {"domain": [1.3, 1.9], "nice": false, "zero": false},
                  "axis": {"orient": "left", "values": [1.35, 1.45, 1.55, 1.65, 1.75, 1.85], "labels": false, "domain": false, "title": null, "tickSize": -9}},
            "color": {"field": "s", "type": "nominal", "scale": {"domain": ["e", "n"], "range": ["#000000", "#ff0000"]},
                      "legend": {"title": null, "orient": "bottom-left", "offset": 58, "labelExpr": "datum.label === 'e' ? 'Exp.' : 'Num.'"}},
            "strokeDash": {"field": "s", "type": "nominal", "scale": {"domain": ["e", "n"], "range": [[9, 14], [1, 0]]},
                           "legend": {"title": null, "orient": "bottom-left", "offset": 58, "labelExpr": "datum.label === 'e' ? 'Exp.' : 'Num.'"}}
          }
        }
      ],
      "resolve": {"axis": {"x": "independent", "y": "independent"}}
    }
  ],
  "spacing": 17,
  "center": true,
  "resolve": {"scale": {"color": "independent", "strokeDash": "independent"}},
  "config": {
    "view": {"stroke": "#000000", "strokeWidth": 5},
    "axis": {
      "domainColor": "#000000", "domainWidth": 5, "tickColor": "#000000", "tickWidth": 4,
      "labelFont": "Liberation Sans", "labelFontSize": 48, "labelColor": "#000000",
      "titleFont": "Liberation Sans", "titleFontSize": 65, "titleFontWeight": "normal", "titleColor": "#000000",
      "grid": false, "labelFlush": false, "labelOverlap": false
    },
    "axisX": {"tickSize": -18, "labelPadding": 41, "titlePadding": 38},
    "axisY": {"tickSize": -18, "labelPadding": 42, "titlePadding": 27},
    "legend": {
      "labelFont": "Liberation Sans", "labelFontSize": 62, "labelColor": "#000000",
      "symbolType": "stroke", "symbolSize": 22201, "symbolStrokeWidth": 4,
      "labelOffset": 18, "rowPadding": 20, "clipHeight": 62, "padding": 0
    },
    "title": {"font": "DejaVu Serif", "fontSize": 74, "fontWeight": "normal", "color": "#000000", "orient": "bottom", "anchor": "middle", "frame": "bounds", "offset": 32}
  }
}
